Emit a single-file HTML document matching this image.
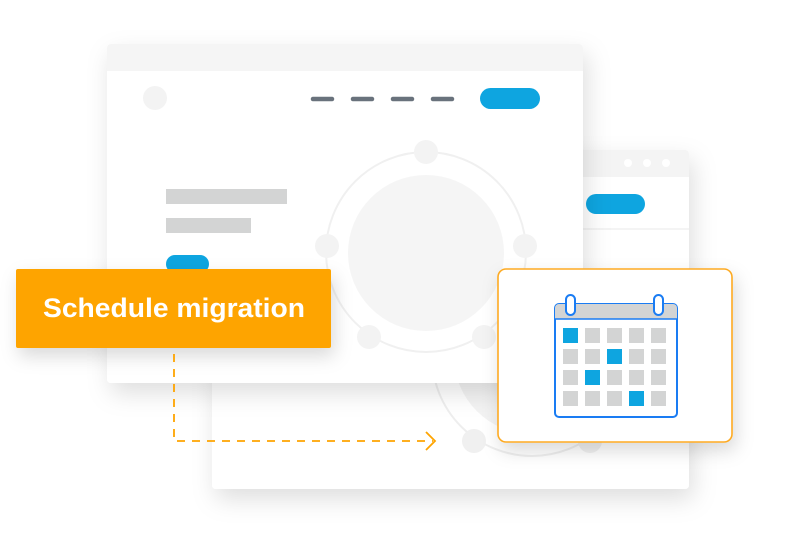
<!DOCTYPE html>
<html><head><meta charset="utf-8"><style>
html,body{margin:0;padding:0;background:#fff;width:794px;height:546px;overflow:hidden}
</style></head><body>
<svg width="794" height="546" viewBox="0 0 794 546" xmlns="http://www.w3.org/2000/svg">
<defs>
<filter id="sh" x="-20%" y="-20%" width="150%" height="160%"><feDropShadow dx="4" dy="10" stdDeviation="12" flood-color="#000" flood-opacity="0.13"/></filter>
<filter id="sh2" x="-20%" y="-30%" width="140%" height="180%"><feDropShadow dx="3" dy="8" stdDeviation="9" flood-color="#000" flood-opacity="0.15"/></filter>
<clipPath id="cb"><rect x="212" y="150" width="477" height="339" rx="4"/></clipPath>
</defs>
<!-- back window -->
<g filter="url(#sh)"><rect x="212" y="150" width="477" height="339" rx="4" fill="#fff"/></g>
<g clip-path="url(#cb)">
<rect x="212" y="150" width="477" height="27" fill="#f4f4f4"/>
<circle cx="628" cy="163" r="4" fill="#fff"/><circle cx="647" cy="163" r="4" fill="#fff"/><circle cx="666" cy="163" r="4" fill="#fff"/>
<rect x="586" y="194" width="59" height="20" rx="10" fill="#0ea5e0"/>
<line x1="212" y1="229" x2="689" y2="229" stroke="#f0f0f0" stroke-width="1.5"/>
<circle cx="532" cy="356" r="100" fill="none" stroke="#eeeeee" stroke-width="2"/>
<circle cx="532" cy="356" r="78" fill="#f3f3f3"/>
<circle cx="474" cy="441" r="12" fill="#f0f0f0"/><circle cx="590" cy="441" r="12" fill="#f0f0f0"/>
</g>
<!-- main window -->
<g filter="url(#sh)"><rect x="107" y="44" width="476" height="339" rx="4" fill="#fff"/></g>
<path d="M111 44h468a4 4 0 0 1 4 4v23H107V48a4 4 0 0 1 4-4z" fill="#f5f5f5"/>
<circle cx="155" cy="98" r="12" fill="#f3f3f3"/>
<g stroke="#69727c" stroke-width="4.5" stroke-linecap="round">
<line x1="313" y1="99" x2="332" y2="99"/><line x1="353" y1="99" x2="372" y2="99"/><line x1="393" y1="99" x2="412" y2="99"/><line x1="433" y1="99" x2="452" y2="99"/></g>
<rect x="480" y="88" width="60" height="21" rx="10.5" fill="#0ea5e0"/>
<circle cx="426" cy="252" r="100" fill="none" stroke="#f0f0f0" stroke-width="2"/>
<circle cx="426" cy="253" r="78" fill="#f5f5f5"/>
<g fill="#f3f3f3"><circle cx="426" cy="152" r="12"/><circle cx="327" cy="246" r="12"/><circle cx="525" cy="246" r="12"/><circle cx="369" cy="337" r="12"/><circle cx="484" cy="337" r="12"/></g>
<rect x="166" y="189" width="121" height="15" fill="#d3d4d4"/>
<rect x="166" y="218" width="85" height="15" fill="#d3d4d4"/>
<rect x="166" y="255" width="43" height="18" rx="9" fill="#0ea5e0"/>
<!-- orange box -->
<g filter="url(#sh2)"><rect x="16" y="269" width="315" height="79" rx="2" fill="#fea400"/></g>
<text x="43" y="317" textLength="262" lengthAdjust="spacingAndGlyphs" font-family="Liberation Sans, sans-serif" font-size="27" font-weight="bold" fill="#fff">Schedule migration</text>
<!-- connector -->
<path d="M174 354V441H433" fill="none" stroke="#fea400" stroke-width="1.8" stroke-dasharray="8 7"/>
<path d="M426 432l9 9-9 9" fill="none" stroke="#fea400" stroke-width="1.8"/>
<!-- calendar card -->
<g filter="url(#sh2)"><rect x="498" y="269" width="234" height="173" rx="8" fill="#fff" stroke="#fdaa22" stroke-width="1.6"/></g>
<rect x="555" y="304" width="122" height="113" rx="4" fill="#fff" stroke="#1a7cf3" stroke-width="2"/>
<path d="M559 304h114a4 4 0 0 1 4 4v11H555v-11a4 4 0 0 1 4-4z" fill="#d3d4d4"/>
<line x1="555" y1="319" x2="677" y2="319" stroke="#1a7cf3" stroke-width="1.5"/>
<rect x="566" y="295" width="9" height="20" rx="4.5" fill="#fff" stroke="#1a7cf3" stroke-width="2"/>
<rect x="654" y="295" width="9" height="20" rx="4.5" fill="#fff" stroke="#1a7cf3" stroke-width="2"/>
<g fill="#d3d4d4">
<rect x="563" y="328" width="15" height="15" fill="#0ea5e0"/><rect x="585" y="328" width="15" height="15"/><rect x="607" y="328" width="15" height="15"/><rect x="629" y="328" width="15" height="15"/><rect x="651" y="328" width="15" height="15"/>
<rect x="563" y="349" width="15" height="15"/><rect x="585" y="349" width="15" height="15"/><rect x="607" y="349" width="15" height="15" fill="#0ea5e0"/><rect x="629" y="349" width="15" height="15"/><rect x="651" y="349" width="15" height="15"/>
<rect x="563" y="370" width="15" height="15"/><rect x="585" y="370" width="15" height="15" fill="#0ea5e0"/><rect x="607" y="370" width="15" height="15"/><rect x="629" y="370" width="15" height="15"/><rect x="651" y="370" width="15" height="15"/>
<rect x="563" y="391" width="15" height="15"/><rect x="585" y="391" width="15" height="15"/><rect x="607" y="391" width="15" height="15"/><rect x="629" y="391" width="15" height="15" fill="#0ea5e0"/><rect x="651" y="391" width="15" height="15"/>
</g>
</svg>
</body></html>
